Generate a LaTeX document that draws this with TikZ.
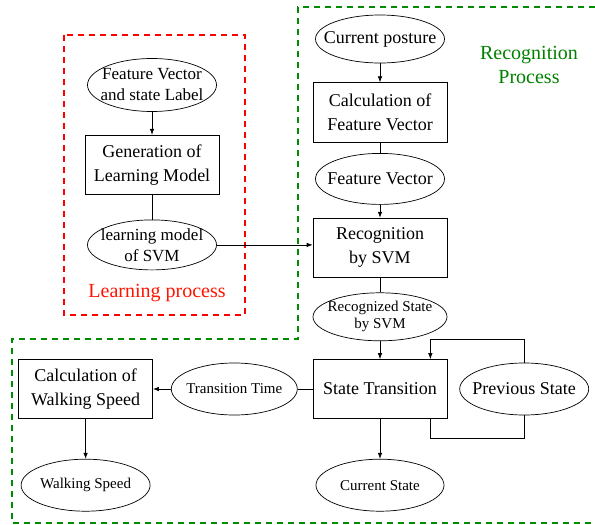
\documentclass[tikz,border=0pt]{standalone}
\usepackage{fontspec}
\setmainfont{Liberation Serif}
\usetikzlibrary{positioning,shapes.geometric,arrows.meta}

\begin{document}
\begin{tikzpicture}[x=1pt,y=1pt,line width=.7pt,
        >={Latex[length=6pt,width=4.5pt]},
        blk/.style={draw, minimum width=134pt, minimum height=59pt, inner sep=1pt, align=center, font=\fontsize{18}{24}\selectfont},
        oval/.style={draw, ellipse, inner sep=-30pt, minimum width=129pt, minimum height=51pt, align=center, font=\fontsize{18}{24}\selectfont},
        small/.style={font=\fontsize{15}{17}\selectfont},
        frame/.style={dash pattern=on 6pt off 5pt, line width=1.4pt}]
            \path[use as bounding box] (0,0) rectangle (595,-525);
            % learning side
            \node (FL) [oval, minimum height=53pt, font=\fontsize{17}{21}\selectfont] at (152,-85) {Feature Vector\\and state Label};
            \node (GL) [blk, below=23pt of FL] {Generation of\\Learning Model};
            \node (LM) [oval, minimum height=50pt, font=\fontsize{17}{21}\selectfont, below=25pt of GL] {learning model\\of SVM};
            \node (LP) [text=red!92!yellow, font=\fontsize{20}{24}\selectfont] at (157,-293) {Learning process};
            % recognition side
            \node (CP) [oval, minimum height=48pt] at (380,-39) {Current posture};
            \node (CF) [blk, minimum height=60pt, below=19pt of CP] {Calculation of\\Feature Vector};
            \node (FV) [oval, below=10pt of CF] {Feature Vector};
            \node (RS) [blk, below=13pt of FV] {Recognition\\by SVM};
            \node (RV) [oval, small, minimum width=134pt, minimum height=48pt, below=15pt of RS] {Recognized State\\by SVM};
            \node (ST) [blk, below=18pt of RV] {State Transition};
            \node (CS) [oval, small, minimum width=128pt, minimum height=52pt, below=40pt of ST] {Current State};
            \node (PS) [oval, minimum height=52pt, right=12pt of ST] {Previous State};
            \node (TT) [oval, small, minimum width=126pt, minimum height=52pt, left=15pt of ST] {Transition Time};
            \node (CW) [blk, left=18pt of TT] {Calculation of\\Walking Speed};
            \node (WS) [oval, small, minimum height=52pt, below=40pt of CW] {Walking Speed};
            \node (RP) [text=green!50!black, align=center, font=\fontsize{20}{24}\selectfont] at (529,-65) {Recognition\\Process};
            % frames
            \draw[frame, red] (64,-35) rectangle (245,-315);
            \draw[frame, green!55!black] (595,-7) -- (298,-7) -- (298,-339) -- (12,-339) -- (12,-523) -- (595,-523);
            % connectors
            \path (FL) edge[->] (GL)
                (GL) edge (LM)
                (CP) edge[->] (CF)
                (CF) edge (FV)
                (FV) edge[->] (RS)
                (RS) edge (RV)
                (RV) edge[->] (ST)
                (ST) edge[->] (CS)
                (ST) edge (TT)
                (TT) edge[->] (CW)
                (CW) edge[->] (WS);
            \draw[->] (LM.east) -- (LM.east -| RS.west);
            \draw[->] (PS.north) -- ++(0,23) -| ([xshift=-17pt]ST.north east);
            \draw (PS.south) -- ++(0,-23) -| ([xshift=-17pt]ST.south east);
\end{tikzpicture}
\end{document}
